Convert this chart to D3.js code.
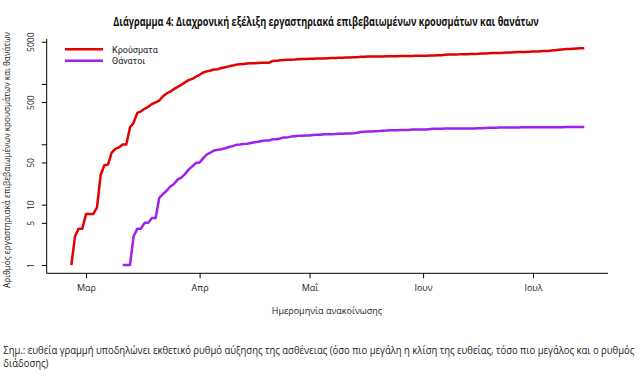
<!DOCTYPE html>
<html>
<head>
<meta charset="utf-8">
<script src="https://cdn.jsdelivr.net/npm/d3@7"></script>
<style>
  html, body { margin: 0; padding: 0; background: #fff; }
  svg { display: block; }
  text { font-family: "Open Sans", "Noto Sans", "DejaVu Sans", sans-serif; }
</style>
</head>
<body>
<div id="chart"></div>
<script>
// ---------------- DATA ----------------
const seriesNames = ["Κρούσματα", "Θάνατοι"];
const seriesColors = ["#e20000", "#a020f0"];

// Cumulative confirmed cases, daily from 26 Feb 2020 to 15 Jul 2020
const casesStart = "2020-02-26";
const cases = [
  1, 3, 4, 4,
  7, 7, 7, 9, 31, 45, 46, 73, 84, 89, 99, 99, 190, 228, 331, 352, 387, 418, 464, 495,
  530, 624, 695, 743, 821, 892, 966, 1061, 1156, 1212, 1314,
  1415, 1544, 1613, 1673, 1735, 1755, 1832, 1884, 1955, 2011, 2081, 2114, 2145, 2170, 2192,
  2207, 2224, 2235, 2235, 2245, 2401, 2408, 2463, 2490, 2506, 2517, 2534, 2566, 2576, 2591,
  2612, 2620, 2626, 2632, 2642, 2663, 2678, 2691, 2710, 2716, 2726, 2744, 2760, 2770, 2810,
  2819, 2834, 2836, 2840, 2850, 2853, 2873, 2876, 2878, 2882, 2892, 2903, 2906, 2909, 2915, 2917,
  2918, 2937, 2952, 2967, 2980, 2997, 3049, 3058, 3068, 3083, 3088, 3108, 3112, 3121, 3134,
  3148, 3189, 3203, 3227, 3237, 3256, 3266, 3287, 3302, 3310, 3343, 3366, 3376, 3390, 3409,
  3432, 3458, 3486, 3511, 3519, 3562, 3622, 3672, 3732, 3772, 3803, 3826, 3850, 3883, 3910
];

// Cumulative deaths, daily from 11 Mar 2020 to 15 Jul 2020
const deathsStart = "2020-03-11";
const deaths = [
  1, 1, 1, 3, 4, 4, 5, 5, 6, 6, 13, 15, 17, 20, 22, 26, 28, 32, 38, 43, 49,
  50, 59, 68, 73, 79, 81, 83, 86, 90, 93, 98, 99, 101, 102, 105, 108, 110, 113, 116, 116,
  121, 121, 125, 130, 130, 134, 136, 138, 139, 140,
  140, 143, 144, 144, 146, 146, 147, 148, 150, 150, 151, 151, 152, 155, 160, 162, 163, 163, 165, 166,
  168, 169, 171, 171, 171, 172, 173, 173, 175, 175, 175,
  175, 175, 179, 180, 180, 180, 182, 182, 183, 183, 183, 183, 183, 183, 183, 184, 184, 186, 187, 188,
  188, 189, 190, 190, 190, 190, 190, 191, 191, 192,
  192, 192, 192, 192, 192, 192, 192, 192, 192, 193, 193, 193, 193, 193, 193
];

const monthTicks = ["2020-03-01", "2020-04-01", "2020-05-01", "2020-06-01", "2020-07-01"];
const monthLabels = ["Μαρ", "Απρ", "Μαΐ", "Ιουν", "Ιουλ"];
const yTicks = [1, 5, 10, 50, 100, 500, 1000, 5000];
const yTickLabels = ["1", "5", "10", "50", "", "500", "", "5000"];

const titleText = "Διάγραμμα 4: Διαχρονική εξέλιξη εργαστηριακά επιβεβαιωμένων κρουσμάτων και θανάτων";
const yTitle = "Αριθμός εργαστηριακά επιβεβαιωμένων κρουσμάτων και θανάτων";
const xTitle = "Ημερομηνία ανακοίνωσης";
const noteLines = [
  "Σημ.: ευθεία γραμμή υποδηλώνει εκθετικό ρυθμό αύξησης της ασθένειας (όσο πιο μεγάλη η κλίση της ευθείας, τόσο πιο μεγάλος και ο ρυθμός",
  "διάδοσης)"
];

// ---------------- CHART ----------------
const W = 643, H = 383;
const DAY = 864e5;
const parse = s => new Date(s + "T00:00:00Z");
const toSeries = (start, vals) => vals.map((v, i) => ({ date: new Date(parse(start).getTime() + i * DAY), value: v }));
const seriesData = [toSeries(casesStart, cases), toSeries(deathsStart, deaths)];

const plot = { left: 46.7, right: 608, top: 39, bottom: 273.3 };
const mar1 = parse("2020-03-01").getTime();

const x = d3.scaleUtc()
  .domain([new Date(mar1 - 10.73 * DAY), new Date(mar1 + 142.47 * DAY)])
  .range([plot.left, plot.right]);
const y = d3.scaleLog()
  .domain([0.729, 5546])
  .range([plot.bottom, plot.top]);

const svg = d3.select("#chart").append("svg").attr("width", W).attr("height", H);

// helper: squeeze a text horizontally to a target width
function fitWidth(sel, target, base) {
  const w = sel.node().getComputedTextLength();
  const k = target / w;
  sel.attr("transform", `${base} scale(${k},1)`);
  return k;
}

// Title
const title = svg.append("text")
  .attr("x", 0).attr("y", 0)
  .attr("text-anchor", "middle")
  .attr("font-size", 12.5).attr("font-weight", "bold")
  .attr("fill", "#111")
  .text(titleText);
fitWidth(title, 426, "translate(326,25.5)");

// Axes box (L shape)
svg.append("path")
  .attr("d", `M${plot.left},${plot.top}V${plot.bottom}H${plot.right}`)
  .attr("fill", "none").attr("stroke", "#000").attr("stroke-width", 1);

// X axis
const xAxis = d3.axisBottom(x)
  .tickValues(monthTicks.map(parse))
  .tickFormat((d, i) => monthLabels[i])
  .tickSize(5).tickSizeOuter(0).tickPadding(6);
const gx = svg.append("g").attr("transform", `translate(0,${plot.bottom})`).call(xAxis);
gx.select(".domain").remove();
gx.selectAll("text").attr("font-size", 9).attr("fill", "#222")
  .style("font-family", "'Open Sans', sans-serif");

// Y axis
const yAxis = d3.axisLeft(y)
  .tickValues(yTicks)
  .tickFormat((d, i) => yTickLabels[i])
  .tickSize(5).tickSizeOuter(0);
const gy = svg.append("g").attr("transform", `translate(${plot.left},0)`).call(yAxis);
gy.select(".domain").remove();
gy.selectAll("text")
  .attr("font-size", 8.5).attr("fill", "#222")
  .attr("x", null).attr("dy", null)
  .attr("text-anchor", "middle")
  .attr("transform", "translate(-12.5,0) rotate(-90)");

// Axis titles
const yt = svg.append("text")
  .attr("x", 0).attr("y", 0)
  .attr("text-anchor", "middle")
  .attr("font-size", 9).attr("fill", "#222")
  .text(yTitle);
fitWidth(yt, 256, "translate(10,160) rotate(-90)");

svg.append("text")
  .attr("x", 327).attr("y", 314)
  .attr("text-anchor", "middle")
  .attr("font-size", 9).attr("fill", "#222")
  .text(xTitle);

// Lines
const line = d3.line().x(d => x(d.date)).y(d => y(d.value));
svg.append("g").selectAll("path")
  .data(seriesData)
  .join("path")
  .attr("d", line)
  .attr("fill", "none")
  .attr("stroke", (d, i) => seriesColors[i])
  .attr("stroke-width", 2.5)
  .attr("stroke-linejoin", "round");

// Legend
const legend = svg.append("g");
const legY = [49.3, 60.7];
seriesNames.forEach((name, i) => {
  legend.append("line")
    .attr("x1", 65).attr("x2", 103)
    .attr("y1", legY[i]).attr("y2", legY[i])
    .attr("stroke", seriesColors[i]).attr("stroke-width", 2.5);
  legend.append("text")
    .attr("x", 112).attr("y", legY[i] + 3.2)
    .attr("font-size", 9).attr("fill", "#222")
    .style("font-family", "Roboto, 'Liberation Sans', sans-serif")
    .text(name);
});

// Footnote
const notes = svg.append("g").selectAll("text")
  .data(noteLines)
  .join("text")
  .attr("x", 0).attr("y", 0)
  .attr("font-size", 10).attr("fill", "#222")
  .text(d => d);
const k = fitWidth(d3.select(notes.nodes()[0]), 632, "translate(3.3,354)");
d3.select(notes.nodes()[1]).attr("transform", `translate(3.3,366.5) scale(${k},1)`);
</script>
</body>
</html>
